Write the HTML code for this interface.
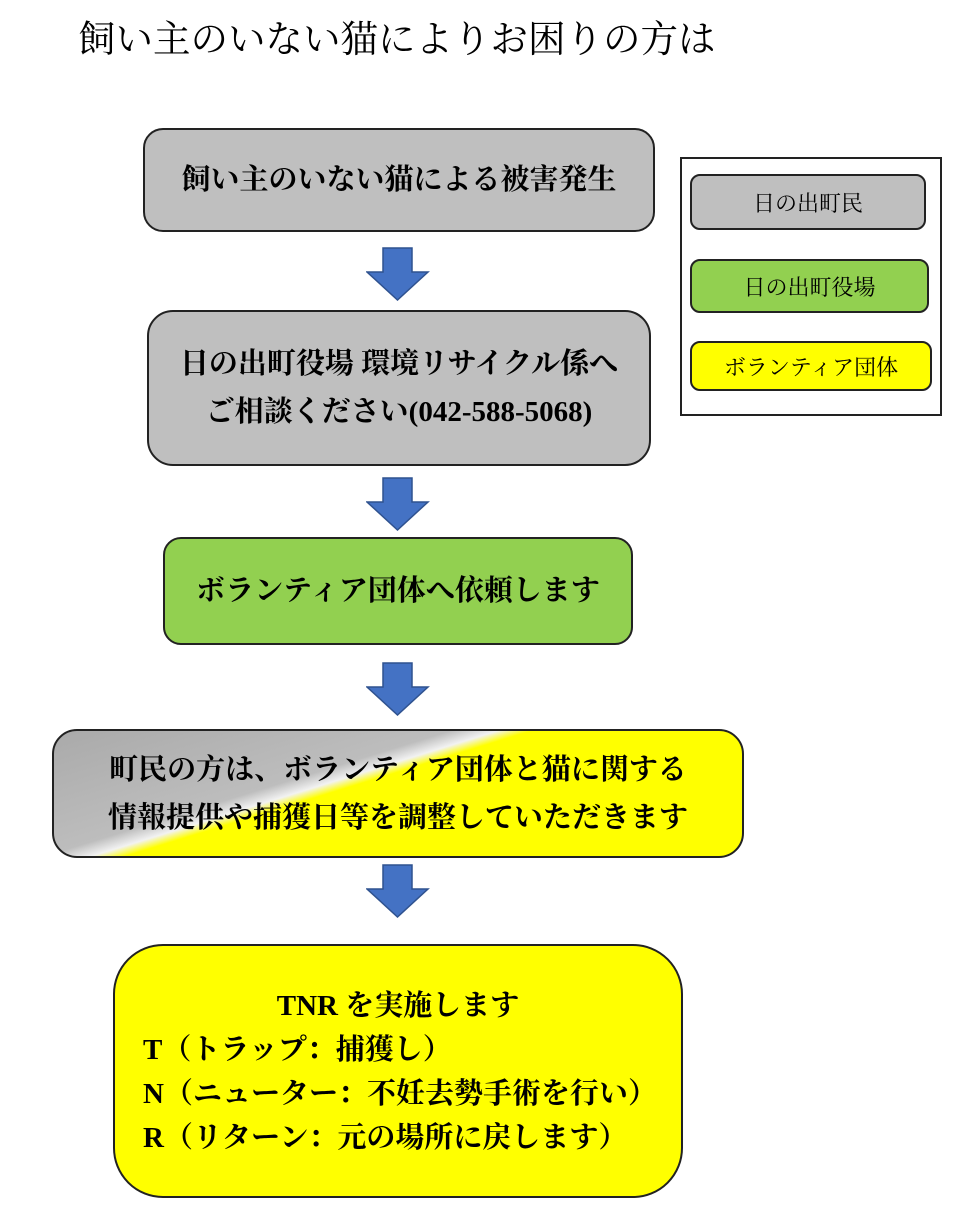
<!DOCTYPE html>
<html><head><meta charset="utf-8"><style>
body{margin:0;width:954px;height:1227px;background:#fff;position:relative;overflow:hidden;font-family:"Liberation Serif","Noto Serif CJK SC",serif;color:#000}
.b{position:absolute;box-sizing:border-box;border:2px solid #222;display:flex;align-items:center;justify-content:center;text-align:center;font-size:29px;font-weight:bold;line-height:48px;white-space:nowrap}
.g{background:#bfbfbf}.gr{background:#92d050}.y{background:#ffff00}
.l{position:absolute;box-sizing:border-box;border:2px solid #222;border-radius:10px;display:flex;align-items:center;justify-content:center;font-size:22px}
svg.a{position:absolute;left:366px;width:64px;height:54px}
</style></head><body>
<div style="position:absolute;left:78px;top:9px;font-size:37.5px;white-space:nowrap">飼い主のいない猫によりお困りの方は</div>

<div class="b g" style="left:143px;top:128px;width:512px;height:104px;border-radius:20px">飼い主のいない猫による被害発生</div>
<div class="b g" style="left:147px;top:310px;width:504px;height:156px;border-radius:26px">日の出町役場 環境リサイクル係へ<br>ご相談ください(042-588-5068)</div>
<div class="b gr" style="left:163px;top:537px;width:470px;height:108px;border-radius:18px">ボランティア団体へ依頼します</div>

<svg style="position:absolute;left:52px;top:729px" width="692" height="129">
<defs><linearGradient id="q" gradientUnits="userSpaceOnUse" x1="219" y1="-127" x2="337" y2="255">
<stop offset="0" stop-color="#a0a0a0"/><stop offset="0.44" stop-color="#bdbdbd"/><stop offset="0.475" stop-color="#f2f2f2"/><stop offset="0.5" stop-color="#ffff00"/><stop offset="1" stop-color="#ffff00"/></linearGradient></defs>
<rect x="1" y="1" width="690" height="127" rx="24" fill="url(#q)" stroke="#222" stroke-width="2"/>
</svg>
<div class="b" style="left:52px;top:729px;width:692px;height:129px;border-color:transparent">町民の方は、ボランティア団体と猫に関する<br>情報提供や捕獲日等を調整していただきます</div>

<div class="b y" style="left:113px;top:944px;width:570px;height:254px;border-radius:50px;display:block;text-align:left;padding:38px 0 0 28px;line-height:44px"><div style="text-align:center;margin-left:-28px">TNR を実施します</div>T（トラップ：捕獲し）<br>N（ニューター：不妊去勢手術を行い）<br>R（リターン：元の場所に戻します）</div>

<svg class="a" style="top:247px" viewBox="0 0 64 54"><polygon points="17,1 46,1 46,25 62,25 31.5,53 1,25 17,25" fill="#4472c4" stroke="#2f528f" stroke-width="1.5"/></svg>
<svg class="a" style="top:477px" viewBox="0 0 64 54"><polygon points="17,1 46,1 46,25 62,25 31.5,53 1,25 17,25" fill="#4472c4" stroke="#2f528f" stroke-width="1.5"/></svg>
<svg class="a" style="top:662px" viewBox="0 0 64 54"><polygon points="17,1 46,1 46,25 62,25 31.5,53 1,25 17,25" fill="#4472c4" stroke="#2f528f" stroke-width="1.5"/></svg>
<svg class="a" style="top:864px" viewBox="0 0 64 54"><polygon points="17,1 46,1 46,25 62,25 31.5,53 1,25 17,25" fill="#4472c4" stroke="#2f528f" stroke-width="1.5"/></svg>

<div style="position:absolute;left:680px;top:157px;width:262px;height:259px;box-sizing:border-box;border:2px solid #222"></div>
<div class="l g" style="left:690px;top:174px;width:236px;height:56px">日の出町民</div>
<div class="l gr" style="left:690px;top:259px;width:239px;height:54px">日の出町役場</div>
<div class="l y" style="left:690px;top:341px;width:242px;height:50px">ボランティア団体</div>
</body></html>
